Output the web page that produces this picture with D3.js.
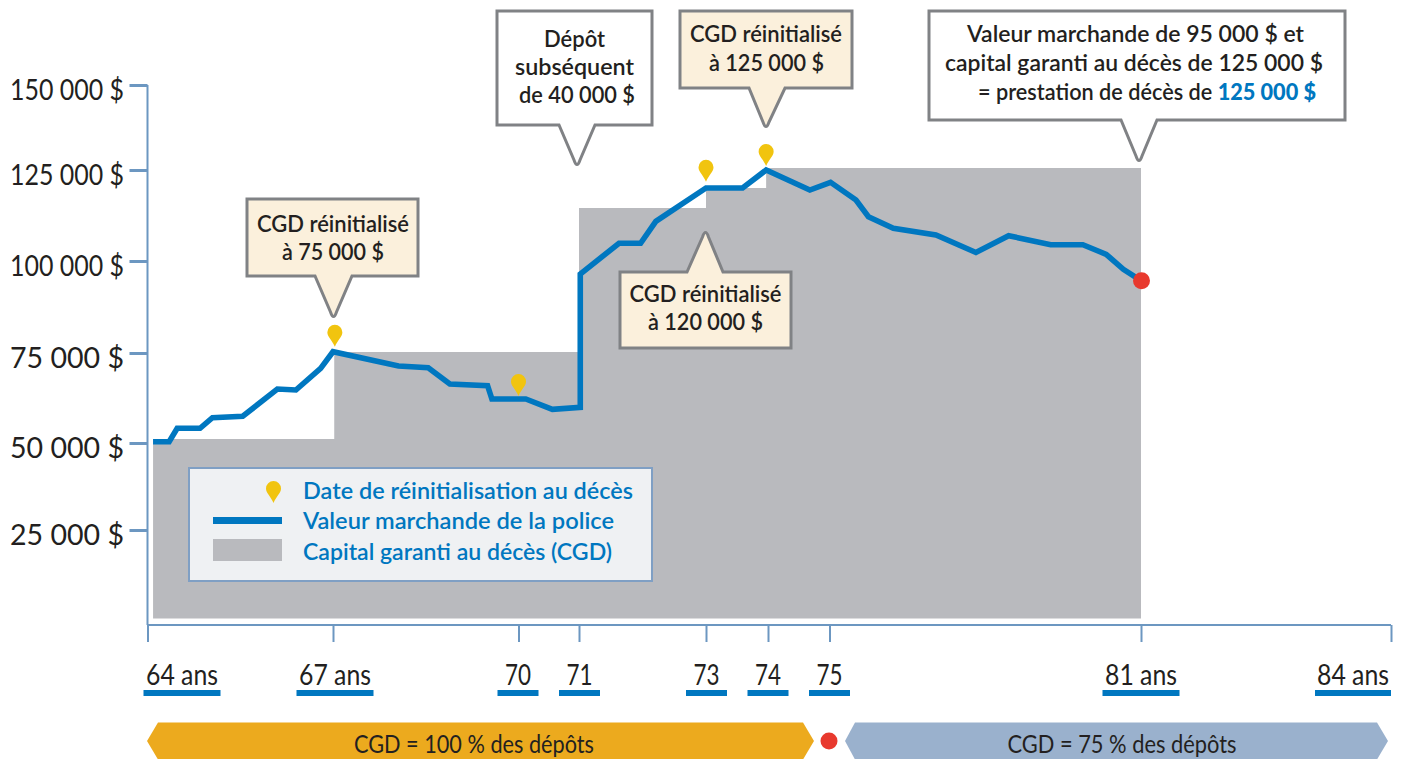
<!DOCTYPE html>
<html><head><meta charset="utf-8">
<script src="https://cdn.jsdelivr.net/npm/d3@7"></script>
<style>html,body{margin:0;padding:0;background:#fff}svg{display:block}
text{font-family:Lato,"Open Sans",sans-serif;fill:#231f20}</style></head>
<body><svg id="c" width="1403" height="759"></svg>
<script>
const yTicks=[25000,50000,75000,100000,125000,150000];
const xTicks=[64,67,70,71,73,74,75,81,84];
const ages=[64.09,64.35,64.48,64.85,65.05,65.54,66.10,66.40,66.80,67,68.06,68.54,68.89,69.50,69.57,70.12,70.56,71.02,71.02,71.63,71.97,72.21,73,73.59,73.97,74.68,75.02,75.51,75.75,76.23,77.05,77.82,78.45,79.26,79.88,80.33,80.66,81];
const marketValues=[50360,50360,54080,54080,57030,57420,65000,64720,70750,75350,71390,70920,66390,65920,62220,62220,59360,59920,96470,104860,104860,110900,120050,120050,125000,119500,121620,116760,112170,108980,107140,102340,106950,104480,104480,101840,97740,94650];
const cgdAges=[64.09,67.02,71,73,73.97,81];
const cgdValues=[51100,75270,114560,120050,125590,125590];
const pinAges=[67.03,70,73,73.97];
const pinValues=[76710,63060,121780,126170];
const endAge=81, endValue=94650;

const BLUE="#0077c0",AXIS="#6c97c1",GREY="#b9babe",BORDER="#808285",CREAM="#fbf0dc",YEL="#f1c40f",RED="#e8392e";
const x=d3.scaleLinear().domain(xTicks).range([147.5,333,518.5,579,706,768,829.5,1141,1391]);
const y=d3.scaleLinear().domain([0,...yTicks]).range([618.5,530,443,353,261,170,85]);
const svg=d3.select("#c");

function T(g,s,px,py,w,o={}){
  return g.append("text").text(s).attr("x",px).attr("y",py)
   .attr("text-anchor",o.anchor||"middle").attr("textLength",w).attr("lengthAdjust","spacingAndGlyphs")
   .style("font-size",(o.size||28)+"px").style("font-weight",o.weight||"normal").style("fill",o.fill||"#231f20");
}
function pinPath(tx,ty){return `M${tx},${ty}C${tx-3},${ty-7} ${tx-7.5},${ty-10} ${tx-7.5},${ty-14.5} A7.5,7.5 0 1 1 ${tx+7.5},${ty-14.5} C${tx+7.5},${ty-10} ${tx+3},${ty-7} ${tx},${ty}Z`;}

// CGD area
svg.append("path").datum(cgdAges.map((a,i)=>[a,cgdValues[i]]))
  .attr("d",d3.area().curve(d3.curveStepAfter).x(d=>x(d[0])).y0(y(0)).y1(d=>y(d[1]))).attr("fill",GREY);

// axes
const ax=svg.append("g").attr("transform","translate(147.5,0)").call(d3.axisLeft(y).tickValues(yTicks).tickSize(18).tickFormat(d=>""));
ax.select(".domain").attr("d",`M0,${y(150000)}V625`).attr("stroke",AXIS).attr("stroke-width",2).attr("fill","none");
ax.selectAll(".tick line").attr("stroke",AXIS).attr("stroke-width",3);
const bx=svg.append("g").attr("transform","translate(0,625)").call(d3.axisBottom(x).tickValues(xTicks).tickSize(17).tickFormat(d=>""));
bx.select(".domain").attr("d",`M${x(64)},0H${x(84)}`).attr("stroke",AXIS).attr("stroke-width",2).attr("fill","none");
bx.selectAll(".tick line").attr("stroke",AXIS).attr("stroke-width",2);

// y labels
const fr=d3.formatLocale({decimal:",",thousands:" ",grouping:[3],currency:["","$"]}).format(",d");
yTicks.forEach(v=>T(svg,fr(v)+" $",124,y(v)+15,114,{anchor:"end"}));

// x labels with underlines
const xLab={64:["64 ans",182,72,77],67:["67 ans",335,72,77],70:["70",518,26,41],71:["71",579.5,26,41],73:["73",706.5,26,41],74:["74",768,26,41],75:["75",829.5,26,41],81:["81 ans",1141,72,77],84:["84 ans",1353,72,76]};
xTicks.forEach(a=>{const [s,c,w,u]=xLab[a];
  T(svg,s,c,685,w);
  svg.append("rect").attr("x",c-u/2).attr("y",690).attr("width",u).attr("height",6).attr("fill",BLUE);
});

// market value line
svg.append("path").datum(ages.map((a,i)=>[a,marketValues[i]]))
  .attr("d",d3.line().x(d=>x(d[0])).y(d=>y(d[1]))).attr("fill","none").attr("stroke",BLUE).attr("stroke-width",5.6).attr("stroke-linejoin","miter");

// pins and end dot
pinAges.forEach((a,i)=>svg.append("path").attr("d",pinPath(x(a),y(pinValues[i]))).attr("fill",YEL));
svg.append("circle").attr("cx",x(endAge)+.5).attr("cy",y(endValue)).attr("r",8.5).attr("fill",RED);

// callouts
function callout(x0,x1,y0,y1,t0,t1,tx,ty,fill){
  const base=ty>y1?y1:y0;
  const d=`M${x0},${y0}`+(base===y0?`H${t0}L${tx-3},${ty+6}Q${tx},${ty-3} ${tx+3},${ty+6}L${t1},${y0}`:"")+`H${x1}V${y1}`+(base===y1?`H${t1}L${tx+3},${ty-6}Q${tx},${ty+3} ${tx-3},${ty-6}L${t0},${y1}`:"")+`H${x0}Z`;
  svg.append("path").attr("d",d).attr("fill",fill).attr("stroke",BORDER).attr("stroke-width",3).attr("stroke-linejoin","miter");
}
const CW=600, CS=23.3;
const co={size:CS,weight:CW};
callout(247,418,199,276,315,352,333.5,318,CREAM);
T(svg,"CGD réinitialisé",333,232,152,co);T(svg,"à 75 000 $",333,260,102,co);
callout(497,652,11,125,559,595,577,166,"#fff");
T(svg,"Dépôt",574.5,47,61,co);T(svg,"subséquent",574.5,75,119,co);T(svg,"de 40 000 $",577,103,116,co);
callout(680,852,11,88,749,785,766,128,CREAM);
T(svg,"CGD réinitialisé",766,42,152,co);T(svg,"à 125 000 $",766.5,71,115,co);
callout(620,791,272,348,687,723,705.5,231,CREAM);
T(svg,"CGD réinitialisé",705.5,302,152,co);T(svg,"à 120 000 $",705.5,330,115,co);
callout(929,1345,11,120,1121,1157,1139,162,"#fff");
T(svg,"Valeur marchande de 95 000 $ et",1135.5,42,337,co);
T(svg,"capital garanti au décès de 125 000 $",1134,71,378,co);
const last=T(svg,"= prestation de décès de ",1147,100,338,co);
last.append("tspan").text("125 000 $").style("fill",BLUE).style("font-weight",900);

// legend
svg.append("rect").attr("x",189).attr("y",468).attr("width",463).attr("height",113).attr("fill","#eff1f3").attr("stroke","#7f9fc4").attr("stroke-width",2);
svg.append("path").attr("d",pinPath(273.5,503)).attr("fill",YEL);
svg.append("rect").attr("x",213).attr("y",517).attr("width",69).attr("height",7).attr("fill",BLUE);
svg.append("rect").attr("x",213).attr("y",539).attr("width",69).attr("height",22).attr("fill",GREY);
const lg={anchor:"start",size:CS,weight:CW,fill:BLUE};
T(svg,"Date de réinitialisation au décès",303,499,330,lg);
T(svg,"Valeur marchande de la police",303,529,311,lg);
T(svg,"Capital garanti au décès (CGD)",303,560,309,lg);

// bottom banners
const ym=741,h0=722.5,h1=759.5;
svg.append("path").attr("d",`M147,${ym}L158,${h0}H803L814,${ym}L803,${h1}H158Z`).attr("fill","#ecaa1e");
svg.append("path").attr("d",`M845,${ym}L855,${h0}H1377L1388,${ym}L1377,${h1}H855Z`).attr("fill","#9ab1cd");
svg.append("circle").attr("cx",829).attr("cy",741).attr("r",8.5).attr("fill",RED);
T(svg,"CGD = 100 % des dépôts",474,753,240,{size:25});
T(svg,"CGD = 75 % des dépôts",1122,753,229,{size:25});
</script></body></html>
